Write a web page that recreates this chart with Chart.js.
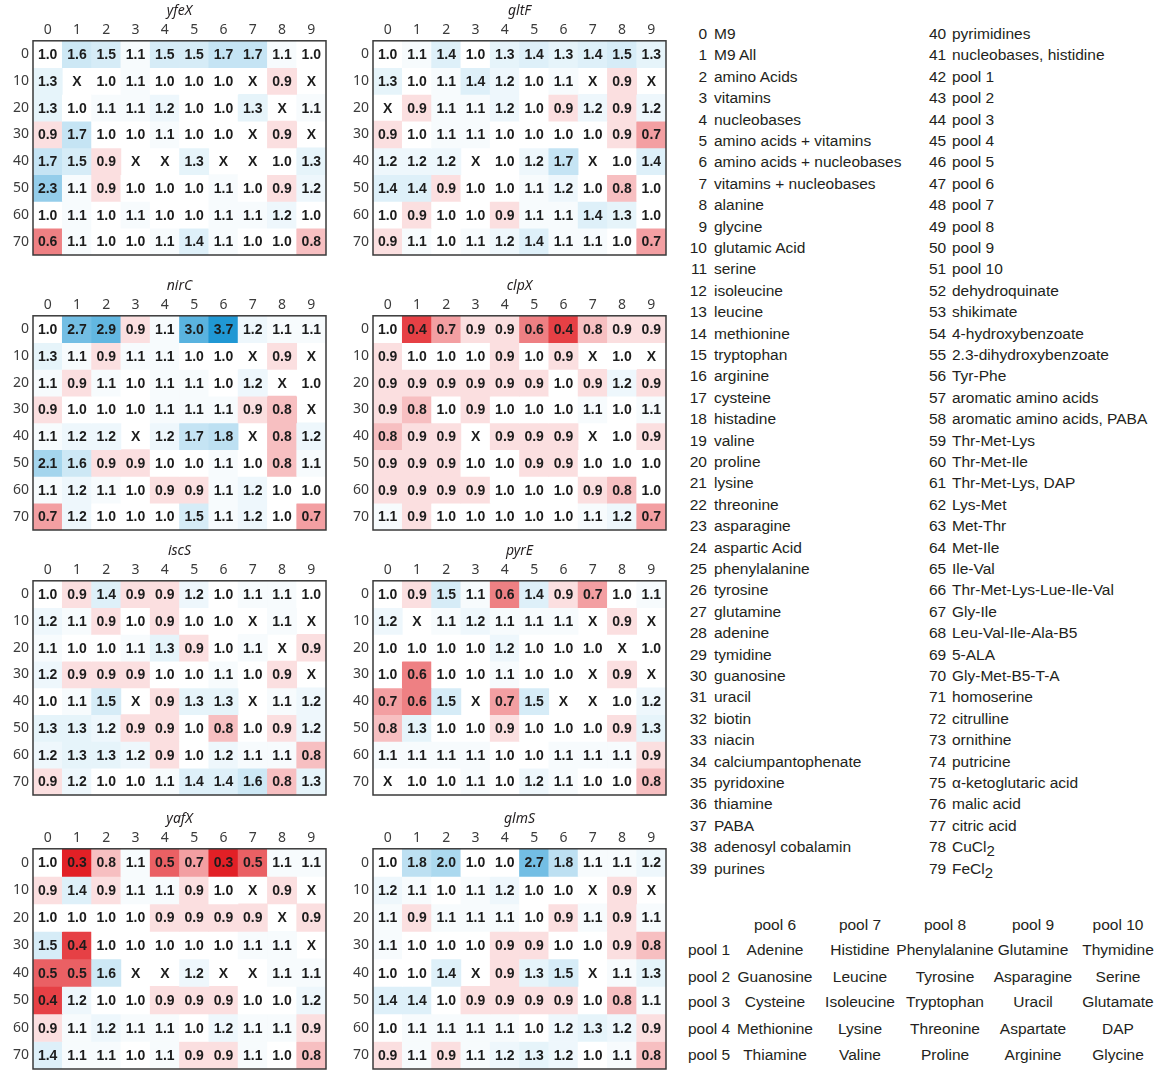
<!DOCTYPE html>
<html>
<head>
<meta charset="utf-8">
<title>Growth condition screen</title>
<script src="https://cdn.jsdelivr.net/npm/chart.js@4.4.1/dist/chart.umd.min.js"></script>
<style>
  html, body { margin: 0; padding: 0; background: #fff; }
  body { width: 1165px; height: 1070px; position: relative; overflow: hidden;
         font-family: "Liberation Sans", Arial, sans-serif; color: #231f20; }
  canvas.panel { position: absolute; }
  .cond { position: absolute; font-size: 15.5px; line-height: 18px; white-space: nowrap; }
  .cond .num { position: absolute; top: 0; }
  .cond .name { position: absolute; top: 0; }
  .cond sub { font-size: 15px; vertical-align: -4px; line-height: 0; }
  .pool { position: absolute; font-size: 15.5px; line-height: 18px; white-space: nowrap; }
</style>
</head>
<body>
<div id="root"></div>
<script>
const colLabels = ['0', '1', '2', '3', '4', '5', '6', '7', '8', '9'];
const rowLabels = ['0', '10', '20', '30', '40', '50', '60', '70'];

// fold change per condition, rows 0..70, columns 0..9; null = not measured (X)
const yfeX = [
    [1.0, 1.6, 1.5, 1.1, 1.5, 1.5, 1.7, 1.7, 1.1, 1.0],
    [1.3, null, 1.0, 1.1, 1.0, 1.0, 1.0, null, 0.9, null],
    [1.3, 1.0, 1.1, 1.1, 1.2, 1.0, 1.0, 1.3, null, 1.1],
    [0.9, 1.7, 1.0, 1.0, 1.1, 1.0, 1.0, null, 0.9, null],
    [1.7, 1.5, 0.9, null, null, 1.3, null, null, 1.0, 1.3],
    [2.3, 1.1, 0.9, 1.0, 1.0, 1.0, 1.1, 1.0, 0.9, 1.2],
    [1.0, 1.1, 1.0, 1.1, 1.0, 1.0, 1.1, 1.1, 1.2, 1.0],
    [0.6, 1.1, 1.0, 1.0, 1.1, 1.4, 1.1, 1.0, 1.0, 0.8]
];
const gltF = [
    [1.0, 1.1, 1.4, 1.0, 1.3, 1.4, 1.3, 1.4, 1.5, 1.3],
    [1.3, 1.0, 1.1, 1.4, 1.2, 1.0, 1.1, null, 0.9, null],
    [null, 0.9, 1.1, 1.1, 1.2, 1.0, 0.9, 1.2, 0.9, 1.2],
    [0.9, 1.0, 1.1, 1.1, 1.0, 1.0, 1.0, 1.0, 0.9, 0.7],
    [1.2, 1.2, 1.2, null, 1.0, 1.2, 1.7, null, 1.0, 1.4],
    [1.4, 1.4, 0.9, 1.0, 1.0, 1.1, 1.2, 1.0, 0.8, 1.0],
    [1.0, 0.9, 1.0, 1.0, 0.9, 1.1, 1.1, 1.4, 1.3, 1.0],
    [0.9, 1.1, 1.0, 1.1, 1.2, 1.4, 1.1, 1.1, 1.0, 0.7]
];
const nirC = [
    [1.0, 2.7, 2.9, 0.9, 1.1, 3.0, 3.7, 1.2, 1.1, 1.1],
    [1.3, 1.1, 0.9, 1.1, 1.1, 1.0, 1.0, null, 0.9, null],
    [1.1, 0.9, 1.1, 1.0, 1.1, 1.1, 1.0, 1.2, null, 1.0],
    [0.9, 1.0, 1.0, 1.0, 1.1, 1.1, 1.1, 0.9, 0.8, null],
    [1.1, 1.2, 1.2, null, 1.2, 1.7, 1.8, null, 0.8, 1.2],
    [2.1, 1.6, 0.9, 0.9, 1.0, 1.0, 1.1, 1.0, 0.8, 1.1],
    [1.1, 1.2, 1.1, 1.0, 0.9, 0.9, 1.1, 1.2, 1.0, 1.0],
    [0.7, 1.2, 1.0, 1.0, 1.0, 1.5, 1.1, 1.2, 1.0, 0.7]
];
const clpX = [
    [1.0, 0.4, 0.7, 0.9, 0.9, 0.6, 0.4, 0.8, 0.9, 0.9],
    [0.9, 1.0, 1.0, 1.0, 0.9, 1.0, 0.9, null, 1.0, null],
    [0.9, 0.9, 0.9, 0.9, 0.9, 0.9, 1.0, 0.9, 1.2, 0.9],
    [0.9, 0.8, 1.0, 0.9, 1.0, 1.0, 1.0, 1.1, 1.0, 1.1],
    [0.8, 0.9, 0.9, null, 0.9, 0.9, 0.9, null, 1.0, 0.9],
    [0.9, 0.9, 0.9, 1.0, 1.0, 0.9, 0.9, 1.0, 1.0, 1.0],
    [0.9, 0.9, 0.9, 0.9, 1.0, 1.0, 1.0, 0.9, 0.8, 1.0],
    [1.1, 0.9, 1.0, 1.0, 1.0, 1.0, 1.0, 1.1, 1.2, 0.7]
];
const iscS = [
    [1.0, 0.9, 1.4, 0.9, 0.9, 1.2, 1.0, 1.1, 1.1, 1.0],
    [1.2, 1.1, 0.9, 1.0, 0.9, 1.0, 1.0, null, 1.1, null],
    [1.1, 1.0, 1.0, 1.1, 1.3, 0.9, 1.0, 1.1, null, 0.9],
    [1.2, 0.9, 0.9, 0.9, 1.0, 1.0, 1.1, 1.0, 0.9, null],
    [1.0, 1.1, 1.5, null, 0.9, 1.3, 1.3, null, 1.1, 1.2],
    [1.3, 1.3, 1.2, 0.9, 0.9, 1.0, 0.8, 1.0, 0.9, 1.2],
    [1.2, 1.3, 1.3, 1.2, 0.9, 1.0, 1.2, 1.1, 1.1, 0.8],
    [0.9, 1.2, 1.0, 1.0, 1.1, 1.4, 1.4, 1.6, 0.8, 1.3]
];
const pyrE = [
    [1.0, 0.9, 1.5, 1.1, 0.6, 1.4, 0.9, 0.7, 1.0, 1.1],
    [1.2, null, 1.1, 1.2, 1.1, 1.1, 1.1, null, 0.9, null],
    [1.0, 1.0, 1.0, 1.0, 1.2, 1.0, 1.0, 1.0, null, 1.0],
    [1.0, 0.6, 1.0, 1.0, 1.1, 1.0, 1.0, null, 0.9, null],
    [0.7, 0.6, 1.5, null, 0.7, 1.5, null, null, 1.0, 1.2],
    [0.8, 1.3, 1.0, 1.0, 0.9, 1.0, 1.0, 1.0, 0.9, 1.3],
    [1.1, 1.1, 1.1, 1.1, 1.0, 1.0, 1.1, 1.1, 1.1, 0.9],
    [null, 1.0, 1.0, 1.1, 1.0, 1.2, 1.1, 1.0, 1.0, 0.8]
];
const yafX = [
    [1.0, 0.3, 0.8, 1.1, 0.5, 0.7, 0.3, 0.5, 1.1, 1.1],
    [0.9, 1.4, 0.9, 1.1, 1.1, 0.9, 1.0, null, 0.9, null],
    [1.0, 1.0, 1.0, 1.0, 0.9, 0.9, 0.9, 0.9, null, 0.9],
    [1.5, 0.4, 1.0, 1.0, 1.0, 1.0, 1.0, 1.1, 1.1, null],
    [0.5, 0.5, 1.6, null, null, 1.2, null, null, 1.1, 1.1],
    [0.4, 1.2, 1.0, 1.0, 0.9, 0.9, 0.9, 1.0, 1.0, 1.2],
    [0.9, 1.1, 1.2, 1.1, 1.1, 1.0, 1.2, 1.1, 1.1, 0.9],
    [1.4, 1.1, 1.1, 1.0, 1.1, 0.9, 0.9, 1.1, 1.0, 0.8]
];
const glmS = [
    [1.0, 1.8, 2.0, 1.0, 1.0, 2.7, 1.8, 1.1, 1.1, 1.2],
    [1.2, 1.1, 1.0, 1.1, 1.2, 1.0, 1.0, null, 0.9, null],
    [1.1, 0.9, 1.1, 1.1, 1.1, 1.0, 0.9, 1.1, 0.9, 1.1],
    [1.1, 1.0, 1.0, 1.0, 0.9, 0.9, 1.0, 1.0, 0.9, 0.8],
    [1.0, 1.0, 1.4, null, 0.9, 1.3, 1.5, null, 1.1, 1.3],
    [1.4, 1.4, 1.0, 0.9, 0.9, 0.9, 0.9, 1.0, 0.8, 1.1],
    [1.0, 1.1, 1.1, 1.1, 1.1, 1.0, 1.2, 1.3, 1.2, 0.9],
    [0.9, 1.1, 0.9, 1.1, 1.2, 1.3, 1.2, 1.0, 1.1, 0.8]
];

const conditions = [
    'M9', 'M9 All', 'amino Acids', 'vitamins', 'nucleobases', 'amino acids + vitamins',
    'amino acids + nucleobases', 'vitamins + nucleobases', 'alanine', 'glycine',
    'glutamic Acid', 'serine', 'isoleucine', 'leucine', 'methionine', 'tryptophan',
    'arginine', 'cysteine', 'histadine', 'valine', 'proline', 'lysine', 'threonine',
    'asparagine', 'aspartic Acid', 'phenylalanine', 'tyrosine', 'glutamine', 'adenine',
    'tymidine', 'guanosine', 'uracil', 'biotin', 'niacin', 'calciumpantophenate',
    'pyridoxine', 'thiamine', 'PABA', 'adenosyl cobalamin', 'purines',
    'pyrimidines', 'nucleobases, histidine', 'pool 1', 'pool 2', 'pool 3', 'pool 4',
    'pool 5', 'pool 6', 'pool 7', 'pool 8', 'pool 9', 'pool 10', 'dehydroquinate',
    'shikimate', '4-hydroxybenzoate', '2.3-dihydroxybenzoate', 'Tyr-Phe',
    'aromatic amino acids', 'aromatic amino acids, PABA', 'Thr-Met-Lys', 'Thr-Met-Ile',
    'Thr-Met-Lys, DAP', 'Lys-Met', 'Met-Thr', 'Met-Ile', 'Ile-Val',
    'Thr-Met-Lys-Lue-Ile-Val', 'Gly-Ile', 'Leu-Val-Ile-Ala-B5', '5-ALA', 'Gly-Met-B5-T-A',
    'homoserine', 'citrulline', 'ornithine', 'putricine', 'α-ketoglutaric acid',
    'malic acid', 'citric acid', 'CuCl2', 'FeCl2'
];

const poolColumns = ['pool 6', 'pool 7', 'pool 8', 'pool 9', 'pool 10'];
const poolRows = ['pool 1', 'pool 2', 'pool 3', 'pool 4', 'pool 5'];
const poolMembers = [
    ['Adenine', 'Histidine', 'Phenylalanine', 'Glutamine', 'Thymidine'],
    ['Guanosine', 'Leucine', 'Tyrosine', 'Asparagine', 'Serine'],
    ['Cysteine', 'Isoleucine', 'Tryptophan', 'Uracil', 'Glutamate'],
    ['Methionine', 'Lysine', 'Threonine', 'Aspartate', 'DAP'],
    ['Thiamine', 'Valine', 'Proline', 'Arginine', 'Glycine']
];

// panel placement: left/top of the framed grid, grid height
const panels = [
    { name: 'yfeX', values: yfeX, left: 33,  top: 41,  h: 214 },
    { name: 'gltF', values: gltF, left: 373, top: 41,  h: 214 },
    { name: 'nirC', values: nirC, left: 33,  top: 316, h: 214 },
    { name: 'clpX', values: clpX, left: 373, top: 316, h: 214 },
    { name: 'iscS', values: iscS, left: 33,  top: 581, h: 214 },
    { name: 'pyrE', values: pyrE, left: 373, top: 581, h: 214 },
    { name: 'yafX', values: yafX, left: 33,  top: 849, h: 220 },
    { name: 'glmS', values: glmS, left: 373, top: 849, h: 220 }
];
const gridW = 293;
const axisW = 33;
const headH = 41;

const tickFont = { family: '"Noto Sans", "Open Sans", sans-serif', size: 14 };
const tickColor = '#3b3b3b';

// white at 1.0, red towards 0.3, blue towards 3.7
function cellColor(v) {
    if (v === null) return '#ffffff';
    let t, c;
    if (v < 1) { t = Math.min(1, (1 - v) / 0.7); c = [226, 32, 38]; }
    else { t = Math.min(1, (v - 1) / 2.7); c = [32, 152, 212]; }
    const mix = (k) => Math.round(255 + (c[k] - 255) * t);
    return `rgb(${mix(0)}, ${mix(1)}, ${mix(2)})`;
}

const cellText = {
    id: 'cellText',
    afterDatasetsDraw(chart) {
        const { ctx } = chart;
        const xs = chart.scales.x;
        const ys = chart.scales.y;
        ctx.save();
        ctx.font = 'bold 14px "Liberation Sans", Arial, sans-serif';
        ctx.fillStyle = '#1c1c1c';
        ctx.textAlign = 'center';
        ctx.textBaseline = 'middle';
        chart.data.datasets.forEach((ds, r) => {
            ds.cells.forEach((v, c) => {
                const label = v === null ? 'X' : v.toFixed(1);
                ctx.fillText(label, xs.getPixelForValue(c), ys.getPixelForValue(r + 0.5) + 1);
            });
        });
        ctx.restore();
    }
};

const frame = {
    id: 'frame',
    afterDraw(chart) {
        const { ctx, chartArea } = chart;
        ctx.save();
        ctx.strokeStyle = '#3a3a3a';
        ctx.lineWidth = 1.5;
        ctx.strokeRect(chartArea.left, chartArea.top, chartArea.right - chartArea.left, chartArea.bottom - chartArea.top);
        ctx.restore();
    }
};

const root = document.getElementById('root');

panels.forEach(p => {
    const canvas = document.createElement('canvas');
    canvas.className = 'panel';
    canvas.width = axisW + gridW + 6;
    canvas.height = headH + p.h + 4;
    canvas.style.left = (p.left - axisW) + 'px';
    canvas.style.top = (p.top - headH) + 'px';
    root.appendChild(canvas);

    new Chart(canvas, {
        type: 'bar',
        data: {
            labels: colLabels,
            datasets: p.values.map((row, r) => ({
                cells: row,
                data: row.map(v => v === null ? null : [r, r + 1]),
                backgroundColor: row.map(cellColor),
                borderWidth: 0,
                barPercentage: 1,
                categoryPercentage: 1,
                grouped: false
            }))
        },
        plugins: [cellText, frame],
        options: {
            responsive: false,
            animation: false,
            events: [],
            layout: { padding: { left: 0, right: 6, top: 0, bottom: 4 } },
            plugins: {
                legend: { display: false },
                tooltip: { enabled: false },
                title: {
                    display: true,
                    text: p.name,
                    fullSize: false,
                    color: '#231f20',
                    font: { family: tickFont.family, size: 14, style: 'italic', weight: 'normal', lineHeight: 1.2 },
                    padding: { top: 3, bottom: 3 }
                }
            },
            scales: {
                x: {
                    type: 'category',
                    position: 'top',
                    offset: true,
                    grid: { display: false, drawTicks: false },
                    border: { display: false },
                    ticks: { color: tickColor, font: tickFont, padding: 2, maxRotation: 0, autoSkip: false },
                    afterFit: (scale) => {
                        scale.height = 18;
                        scale.paddingLeft = 0;
                        scale.paddingRight = 0;
                    }
                },
                y: {
                    type: 'linear',
                    min: 0,
                    max: 8,
                    reverse: true,
                    grid: { display: false, drawTicks: false },
                    border: { display: false },
                    afterBuildTicks: (scale) => {
                        scale.ticks = rowLabels.map((_, i) => ({ value: i + 0.5 }));
                    },
                    ticks: {
                        color: tickColor,
                        font: tickFont,
                        padding: 4,
                        callback: (value) => rowLabels[Math.floor(value)]
                    },
                    afterFit: (scale) => {
                        scale.width = axisW;
                        scale.paddingTop = 0;
                        scale.paddingBottom = 0;
                    }
                }
            }
        }
    });
});

// numbered list of growth conditions, two columns of 40
conditions.forEach((name, i) => {
    const col = i < 40 ? 0 : 1;
    const row = i % 40;
    const el = document.createElement('div');
    el.className = 'cond';
    el.style.top = (34 + row * 21.4 - 9) + 'px';
    el.style.left = (col === 0 ? 687 : 920) + 'px';
    const num = document.createElement('span');
    num.className = 'num';
    num.textContent = String(i);
    if (col === 0) { num.style.left = '0'; num.style.width = '20px'; num.style.textAlign = 'right'; }
    else { num.style.left = '9px'; }
    const label = document.createElement('span');
    label.className = 'name';
    label.style.left = (col === 0 ? 27 : 32) + 'px';
    const m = name.match(/^(.*Cl)(2)$/);
    if (m) {
        label.textContent = m[1];
        const sub = document.createElement('sub');
        sub.textContent = m[2];
        label.appendChild(sub);
    } else {
        label.textContent = name;
    }
    el.appendChild(num);
    el.appendChild(label);
    root.appendChild(el);
});

// pool composition table
const poolColX = [775, 860, 945, 1033, 1118];
const poolRowY = [950, 977, 1002, 1029, 1055];
function placeText(text, x, y, align) {
    const el = document.createElement('div');
    el.className = 'pool';
    el.textContent = text;
    el.style.top = (y - 9) + 'px';
    if (align === 'center') {
        el.style.left = (x - 100) + 'px';
        el.style.width = '200px';
        el.style.textAlign = 'center';
    } else {
        el.style.left = x + 'px';
    }
    root.appendChild(el);
}
poolColumns.forEach((t, c) => placeText(t, poolColX[c], 925, 'center'));
poolRows.forEach((t, r) => {
    placeText(t, 688, poolRowY[r], 'left');
    poolMembers[r].forEach((m, c) => placeText(m, poolColX[c], poolRowY[r], 'center'));
});
</script>
</body>
</html>
